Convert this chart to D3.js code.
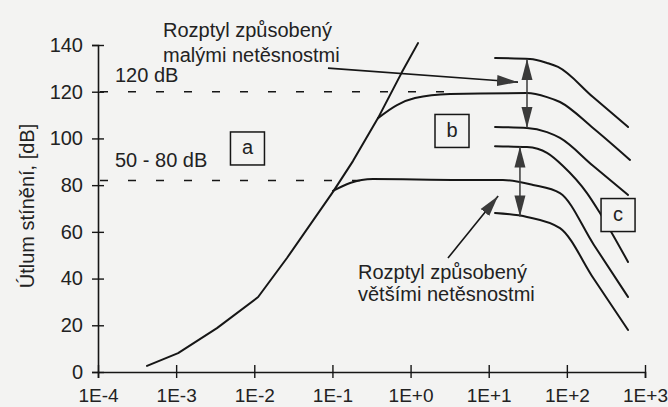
<!DOCTYPE html>
<html>
<head>
<meta charset="utf-8">
<script src="https://cdn.jsdelivr.net/npm/d3@7"></script>
<style>
  html, body { margin: 0; padding: 0; background: #f3f3f2; }
  svg { display: block; }
  text { font-family: "Liberation Sans", Arial, sans-serif; fill: #222; }
</style>
</head>
<body>
<svg id="chart" width="668" height="407"></svg>
<script>
// ---- data ----
const xTicks = [1e-4, 1e-3, 1e-2, 1e-1, 1, 10, 100, 1000];
const xTickLabels = ["1E-4", "1E-3", "1E-2", "1E-1", "1E+0", "1E+1", "1E+2", "1E+3"];
const yTicks = [0, 20, 40, 60, 80, 100, 120, 140];

// main rising curve
const mainX = [4.24e-4, 1.06e-3, 3.33e-3, 0.0112, 0.0262, 0.1016, 0.183, 0.383, 0.776, 1.245];
const mainY = [2.6, 8.1, 18.8, 32.1, 48.8, 77.1, 90.3, 108.7, 128.4, 140.8];

// curve b (small leaks, branching at ~120 dB)
const curveBX = [0.383, 0.67, 1.14, 3.2, 30.9, 55.7, 81.7, 216, 643];
const curveBY = [108.7, 114.3, 117.3, 119.0, 119.4, 117.7, 115.6, 104.5, 90.8];

// scatter curves for small leaks
const topCurveX = [12.05, 33.8, 55.7, 77.1, 216, 607];
const topCurveY = [134.4, 134.0, 132.3, 130.6, 117.7, 104.9];
const thirdCurveX = [12.05, 30.9, 55.7, 81.7, 216, 607];
const thirdCurveY = [104.9, 104.5, 102.7, 100.2, 88.3, 75.8];

// scatter curves for larger leaks
const fourthCurveX = [12.05, 30.9, 55.7, 89.3, 181, 265, 607];
const fourthCurveY = [96.7, 96.3, 93.8, 88.2, 76.6, 68.1, 47.1];
const fifthCurveX = [0.1016, 0.168, 0.330, 4.3, 15.2, 36.9, 81.7, 222, 607];
const fifthCurveY = [77.5, 80.9, 82.6, 82.2, 82.2, 80.1, 76.6, 54.4, 32.1];
const bottomCurveX = [12.05, 30.9, 81.7, 222, 607];
const bottomCurveY = [68.1, 66.4, 61.6, 39.8, 18.0];

// reference levels (dashed)
const refLevels = [120, 82];
const refEnds = [3.7, 0.4];
const refLabels = ["120 dB", "50 - 80 dB"];

// double arrows: x, from, to
const dblArrowX = [30.9, 25.1];
const dblArrowFrom = [134.0, 96.5];
const dblArrowTo = [104.5, 66.6];

// leader arrows: start (x,y) -> tip (x,y)
const leaderStartX = [0.0877, 3.01];
const leaderStartY = [130.1, 48.8];
const leaderTipX = [23.7, 13.2];
const leaderTipY = [124.1, 75.3];

// region boxes
const boxLabels = ["a", "b", "c"];
const boxX = [8.18e-3, 3.39, 452];
const boxY = [95.7, 103.2, 67.2];

// ---- drawing ----
const svg = d3.select("#chart");
const x = d3.scaleLog().domain([1e-4, 1e3]).range([98, 645]);
const y = d3.scaleLinear().domain([0, 140]).range([372, 45]);
const ink = "#161616";

svg.append("rect").attr("width", 668).attr("height", 407).attr("fill", "#f3f3f2");

const defs = svg.append("defs");
defs.append("marker").attr("id", "head")
  .attr("viewBox", "0 -6 22 12").attr("markerUnits", "userSpaceOnUse")
  .attr("markerWidth", 22).attr("markerHeight", 12)
  .attr("refX", 21).attr("refY", 0).attr("orient", "auto-start-reverse")
  .append("path").attr("d", "M0,-5.5L21,0L0,5.5Z").attr("fill", "#3a3a3a");

// y axis
const yAxis = svg.append("g").attr("transform", "translate(98,0)")
  .call(d3.axisLeft(y).tickValues(yTicks).tickSize(6).tickPadding(9));
yAxis.select(".domain").attr("stroke", ink).attr("stroke-width", 1.6);
yAxis.selectAll(".tick line").attr("x1", -6).attr("x2", 6).attr("stroke", ink).attr("stroke-width", 1.4);
yAxis.selectAll(".tick text").attr("font-size", 20).attr("fill", "#222")
  .attr("font-family", "Liberation Sans, Arial, sans-serif");

// x axis
const xAxis = svg.append("g").attr("transform", "translate(0,372)")
  .call(d3.axisBottom(x).tickValues(xTicks).tickFormat((d, i) => xTickLabels[i]).tickSize(6).tickPadding(11));
xAxis.select(".domain").attr("stroke", ink).attr("stroke-width", 1.6);
xAxis.selectAll(".tick line").attr("y1", -7).attr("y2", 6).attr("stroke", ink).attr("stroke-width", 1.4);
xAxis.selectAll(".tick text").attr("font-size", 19).attr("fill", "#222")
  .attr("font-family", "Liberation Sans, Arial, sans-serif");

// y label
svg.append("text").attr("transform", "translate(34,206) rotate(-90)")
  .attr("text-anchor", "middle").attr("font-size", 20).text("Útlum stínění, [dB]");

// dashed reference lines
refLevels.forEach((lv, i) => {
  svg.append("line").attr("x1", x(1e-4) + 2).attr("x2", x(refEnds[i]))
    .attr("y1", y(lv)).attr("y2", y(lv))
    .attr("stroke", ink).attr("stroke-width", 1.4).attr("stroke-dasharray", "8,20");
});
svg.append("text").attr("x", 115).attr("y", 82).attr("font-size", 20).text(refLabels[0]);
svg.append("text").attr("x", 115).attr("y", 167).attr("font-size", 20).text(refLabels[1]);

// curves
function drawCurve(xs, ys, curve) {
  const pts = xs.map((d, i) => [x(d), y(ys[i])]);
  svg.append("path").attr("d", d3.line().curve(curve)(pts))
    .attr("fill", "none").attr("stroke", ink).attr("stroke-width", 2)
    .attr("stroke-linejoin", "round").attr("stroke-linecap", "round");
}
drawCurve(mainX, mainY, d3.curveLinear);
drawCurve(curveBX, curveBY, d3.curveMonotoneX);
drawCurve(topCurveX, topCurveY, d3.curveMonotoneX);
drawCurve(thirdCurveX, thirdCurveY, d3.curveMonotoneX);
drawCurve(fourthCurveX, fourthCurveY, d3.curveMonotoneX);
drawCurve(fifthCurveX, fifthCurveY, d3.curveMonotoneX);
drawCurve(bottomCurveX, bottomCurveY, d3.curveMonotoneX);

// double arrows
dblArrowX.forEach((d, i) => {
  svg.append("line").attr("x1", x(d)).attr("x2", x(d))
    .attr("y1", y(dblArrowFrom[i])).attr("y2", y(dblArrowTo[i]))
    .attr("stroke", "#3a3a3a").attr("stroke-width", 1.5)
    .attr("marker-start", "url(#head)").attr("marker-end", "url(#head)");
});

// leader arrows
leaderStartX.forEach((d, i) => {
  svg.append("line").attr("x1", x(d)).attr("y1", y(leaderStartY[i]))
    .attr("x2", x(leaderTipX[i])).attr("y2", y(leaderTipY[i]))
    .attr("stroke", ink).attr("stroke-width", 1.6)
    .attr("marker-end", "url(#head)");
});

// annotation texts
const t1 = svg.append("text").attr("font-size", 20);
t1.append("tspan").attr("x", 163).attr("y", 37).text("Rozptyl způsobený");
t1.append("tspan").attr("x", 163).attr("y", 62).text("malými netěsnostmi");
const t2 = svg.append("text").attr("font-size", 20);
t2.append("tspan").attr("x", 358).attr("y", 279).text("Rozptyl způsobený");
t2.append("tspan").attr("x", 358).attr("y", 301).text("většími netěsnostmi");

// region boxes
boxLabels.forEach((lab, i) => {
  const cx = x(boxX[i]), cy = y(boxY[i]);
  svg.append("rect").attr("x", cx - 17).attr("y", cy - 16.5).attr("width", 34).attr("height", 33)
    .attr("fill", "#f3f3f2").attr("stroke", ink).attr("stroke-width", 1.5);
  svg.append("text").attr("x", cx).attr("y", cy + 6).attr("text-anchor", "middle")
    .attr("font-size", 20).text(lab);
});
</script>
</body>
</html>
